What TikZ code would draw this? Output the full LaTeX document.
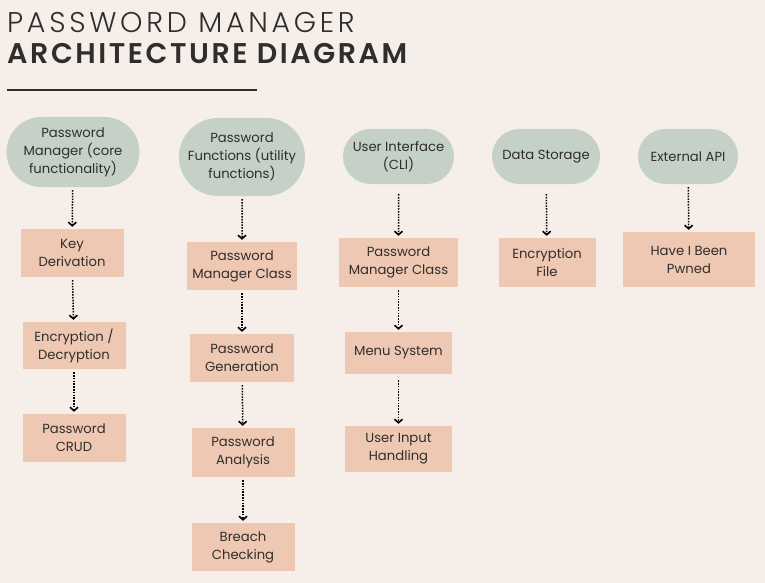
\documentclass[tikz,border=0pt]{standalone}
\usepackage{fontspec}
\setmainfont{Poppins}
\newfontfamily\titlelight[LetterSpace=13]{Poppins Light}
\newfontfamily\titlebold[LetterSpace=9]{Poppins SemiBold}
\usetikzlibrary{shapes.misc,arrows.meta}

\definecolor{bgcol}{RGB}{245,238,233}
\definecolor{sage}{RGB}{197,208,198}
\definecolor{peach}{RGB}{238,200,178}
\definecolor{ink}{RGB}{48,46,45}

\tikzset{
  group/.style={rounded rectangle, fill=sage, text=ink, align=center,
    font=\fontsize{13.2}{18}\selectfont, inner sep=1pt},
  part/.style={rectangle, fill=peach, text=ink, align=center,
    font=\fontsize{13.2}{18}\selectfont, inner sep=1pt},
  link/.style={dash pattern=on 1.5pt off 1.3pt, line width=1.5pt, black,
    -{Straight Barb[length=3.5pt,width=8pt,line width=1.6pt]},
    shorten <=3pt, shorten >=2pt}
}

\begin{document}
\begin{tikzpicture}[x=1pt,y=-1pt]
  \fill[bgcol] (0,0) rectangle (765,583);
  \useasboundingbox (0,0) rectangle (765,583);

%% title and rule
  \node[anchor=base west, inner sep=0pt, text=ink, font=\titlelight\fontsize{28.5}{30}\selectfont] (title) at (7,33) {PASSWORD MANAGER};
  \node[anchor=base west, inner sep=0pt, text=ink, font=\titlebold\fontsize{28.5}{30}\selectfont] (subtitle) at (7,64) {ARCHITECTURE DIAGRAM};
  \coordinate (ruleL) at (7,90);
  \coordinate (ruleR) at (257,90);
  \draw[ink, line width=1.3pt] (ruleL) -- (ruleR);

%% core functionality
  \node[group, minimum width=135, minimum height=70] (core) at (73,152) {Password\\Manager (core\\functionality)};
  \node[part, minimum width=103, minimum height=48] (keyder) at (72,253) {Key\\Derivation};
  \node[part, minimum width=103, minimum height=47] (encdec) at (74,345.5) {Encryption /\\Decryption};
  \node[part, minimum width=103, minimum height=48] (crud) at (74,438) {Password\\CRUD};

%% utility functions
  \node[group, minimum width=128, minimum height=78] (util) at (242,157) {Password\\Functions (utility\\functions)};
  \node[part, minimum width=110, minimum height=48] (pmclass) at (242,266) {Password\\Manager Class};
  \node[part, minimum width=104, minimum height=48] (gen) at (242,358) {Password\\Generation};
  \node[part, minimum width=103, minimum height=49] (analysis) at (243,452.5) {Password\\Analysis};
  \node[part, minimum width=103, minimum height=48] (breach) at (243,547) {Breach\\Checking};

%% user interface
  \node[group, minimum width=113, minimum height=55] (cli) at (398.5,156.5) {User Interface\\(CLI)};
  \node[part, minimum width=119, minimum height=49] (cliclass) at (398.5,262.5) {Password\\Manager Class};
  \node[part, minimum width=107, minimum height=42] (menu) at (398.5,353) {Menu System};
  \node[part, minimum width=107, minimum height=46] (input) at (398.5,449) {User Input\\Handling};

%% data storage
  \node[group, minimum width=110, minimum height=55] (storage) at (546,156.5) {Data Storage};
  \node[part, minimum width=97, minimum height=49] (encfile) at (547,262.5) {Encryption\\File};

%% external api
  \node[group, minimum width=102, minimum height=55] (api) at (688,156.5) {External API};
  \node[part, minimum width=132, minimum height=55] (hibp) at (689,259.5) {Have I Been\\Pwned};

%% connectors
  \draw[link] (core) -- (keyder);
  \draw[link] (keyder) -- (encdec);
  \draw[link] (encdec) -- (crud);
  \draw[link] (util) -- (pmclass);
  \draw[link] (pmclass) -- (gen);
  \draw[link] (gen) -- (analysis);
  \draw[link] (analysis) -- (breach);
  \draw[link, shorten <=10pt] (cli) -- (cliclass);
  \draw[link] (cliclass) -- (menu);
  \draw[link, shorten <=6pt] (menu) -- (input);
  \draw[link, shorten <=10pt] (storage) -- (encfile);
  \draw[link] (api) -- (hibp);
\end{tikzpicture}
\end{document}
